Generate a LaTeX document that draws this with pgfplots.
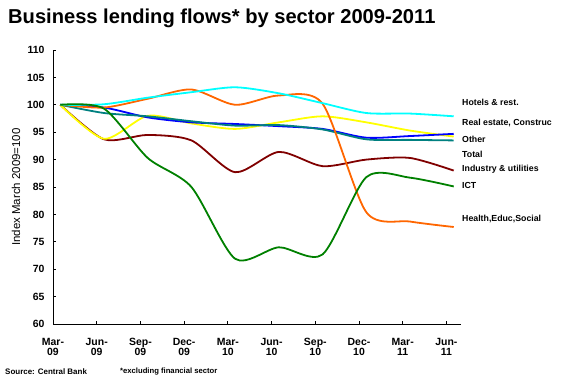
\documentclass[border=0pt]{standalone}
\usepackage{fontspec}
\setmainfont{Liberation Sans}
\usepackage{pgfplots}
\pgfplotsset{compat=1.18}
\definecolor{cyanL}{HTML}{00FFFF}
\definecolor{orangeL}{HTML}{FF6600}
\definecolor{blueL}{HTML}{0000FF}
\definecolor{tealL}{HTML}{008080}
\definecolor{yellowL}{HTML}{FFFF00}
\definecolor{redL}{HTML}{800000}
\definecolor{greenL}{HTML}{008000}
\newcommand\xtfont{\bfseries\fontsize{10.5}{9.6}\selectfont\lineskiplimit=-20pt\relax}
\begin{document}
\begin{tikzpicture}[x=1bp,y=1bp]
\path[use as bounding box] (0,0) rectangle (564,386);
\begin{axis}[
  at={(53bp,62bp)}, anchor=south west,
  scale only axis, width=408bp, height=274bp,
  xmin=-0.5, xmax=27.5, ymin=60, ymax=110,
  axis x line*=bottom, axis y line*=left,
  axis line style={line width=0.8bp, -},
  xtick={-0.5,2.5,5.5,8.5,11.5,14.5,17.5,20.5,23.5,26.5},
  xticklabels={{Mar-\\09},{Jun-\\09},{Sep-\\09},{Dec-\\09},{Mar-\\10},{Jun-\\10},{Sep-\\10},{Dec-\\10},{Mar-\\11},{Jun-\\11}},
  ytick={60,65,...,110},
  /pgf/number format/assume math mode=true,
  tick align=inside, major tick length=3bp,
  tick style={line width=0.8bp, black},
  xticklabel style={align=center, font=\xtfont, yshift=-11bp, anchor=north},
  yticklabel style={font=\bfseries\fontsize{10.5}{12}\selectfont, xshift=-5bp},
  ylabel={Index March 2009=100},
  every axis y label/.style={at={(axis description cs:-0.0907,0.5)}, rotate=90, anchor=center, font=\fontsize{11.5}{13}\selectfont},
  clip=false,
  every axis plot/.append style={line width=1.8bp, smooth, tension=0.45, no marks},
]
\addplot[redL] coordinates {(0,100) (3,93.7) (6,94.5) (9,93.5) (12,87.7) (15,91.4) (18,88.8) (21,90.0) (24,90.3) (27,88.0)};
\addplot[yellowL] coordinates {(0,100) (3,93.8) (6,98.0) (9,96.6) (12,95.6) (15,96.8) (18,97.9) (21,96.8) (24,95.3) (27,94.2)};
\addplot[blueL] coordinates {(0,100) (3,99.5) (6,97.7) (9,96.8) (12,96.5) (15,96.1) (18,95.6) (21,94.0) (24,94.3) (27,94.7)};
\addplot[tealL] coordinates {(0,100) (3,98.5) (6,97.9) (9,97.0) (12,96.2) (15,96.3) (18,95.5) (21,93.7) (24,93.6) (27,93.5)};
\addplot[orangeL] coordinates {(0,100) (3,99.5) (6,101.1) (9,102.8) (12,100.0) (15,101.7) (18,100.2) (21,80.4) (24,78.7) (27,77.7)};
\addplot[cyanL] coordinates {(0,100) (3,100.1) (6,101.3) (9,102.3) (12,103.2) (15,102.1) (18,100.3) (21,98.5) (24,98.4) (27,97.9)};
\addplot[greenL] coordinates {(0,100) (3,99.3) (6,90.3) (9,85.0) (12,71.9) (15,74.0) (18,72.7) (21,86.8) (24,86.7) (27,85.1)};
\end{axis}
\node[anchor=base west, inner sep=0, font=\bfseries\fontsize{20.2}{22}\selectfont] at (8,362.5) {Business lending flows* by sector 2009-2011};
\begin{scope}[every node/.style={anchor=west, inner sep=0, font=\bfseries\fontsize{8.8}{10}\selectfont}]
\node at (462,386-102.7) {Hotels \& rest.};
\node at (462,386-123.3) {Real estate, Construc};
\node at (462,386-139.3) {Other};
\node at (462,386-154) {Total};
\node at (462,386-169.3) {Industry \& utilities};
\node at (462,386-185.3) {ICT};
\node at (462,386-219) {Health,Educ,Social};
\end{scope}
\node[anchor=west, inner sep=0, font=\bfseries\fontsize{8}{9}\selectfont] at (5,386-372) {Source: Central Bank};
\node[anchor=west, inner sep=0, font=\bfseries\fontsize{7.7}{9}\selectfont] at (120,386-372) {*excluding financial sector};
\end{tikzpicture}
\end{document}
